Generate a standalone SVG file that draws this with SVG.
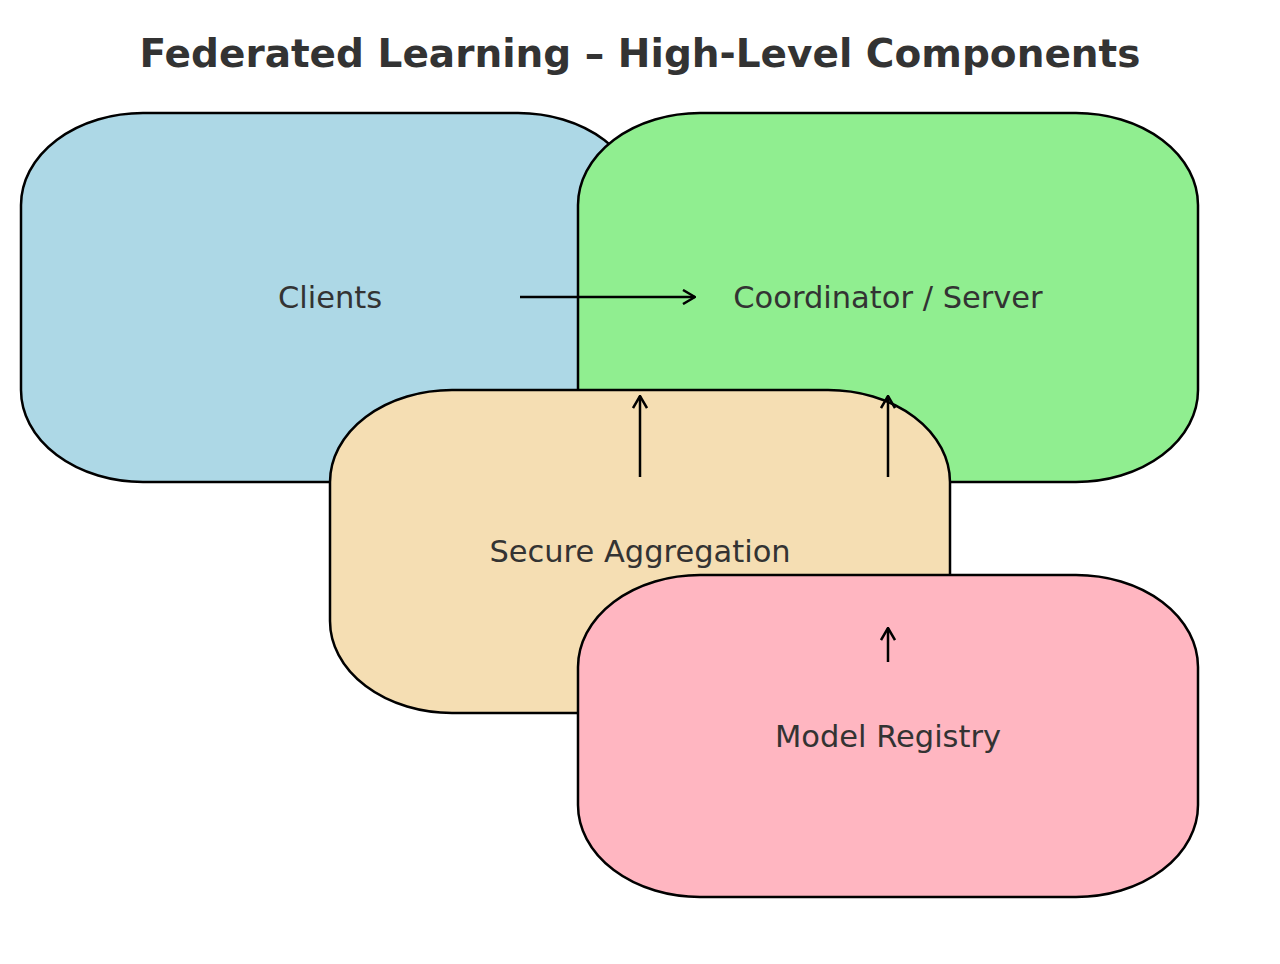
<svg xmlns="http://www.w3.org/2000/svg" width="1280" height="964" viewBox="0 0 1280 964">
<style>
.box{stroke:#000;stroke-width:2.5}
.lbl{font-family:"DejaVu Sans",sans-serif;font-size:30.5px;fill:#333;text-anchor:middle;dominant-baseline:central}
.title{font-family:"DejaVu Sans",sans-serif;font-size:39px;font-weight:bold;fill:#333;text-anchor:middle}
.conn{stroke:#000;stroke-width:2.5;fill:none;marker-end:url(#ah)}
</style>
<defs>
<marker id="ah" viewBox="0 0 14 16" refX="13" refY="8" markerWidth="14" markerHeight="16" markerUnits="userSpaceOnUse" orient="auto">
<path d="M1,1 L13,8 L1,15" fill="none" stroke="#000" stroke-width="2.5"/>
</marker>
</defs>
<rect width="1280" height="964" fill="#fff"/>
<text class="title" x="640" y="67">Federated Learning – High-Level Components</text>
<g id="clients"><rect class="box" x="21" y="113" width="619" height="369" rx="122" ry="92" fill="#add8e6"/><text class="lbl" x="330" y="297">Clients</text></g>
<g id="coordinator"><rect class="box" x="578" y="113" width="620" height="369" rx="122" ry="92" fill="#90ee90"/><text class="lbl" x="888" y="297">Coordinator / Server</text></g>
<g id="secure_aggregation"><rect class="box" x="330" y="390" width="620" height="323" rx="122" ry="92" fill="#f5deb3"/><text class="lbl" x="640" y="551">Secure Aggregation</text></g>
<g id="model_registry"><rect class="box" x="578" y="575" width="620" height="322" rx="122" ry="92" fill="#ffb6c1"/><text class="lbl" x="888" y="736">Model Registry</text></g>
<g id="connectors">
<line class="conn" x1="520" y1="297" x2="695" y2="297"/>
<line class="conn" x1="640" y1="477" x2="640" y2="396"/>
<line class="conn" x1="888" y1="477" x2="888" y2="396"/>
<line class="conn" x1="888" y1="662" x2="888" y2="628"/>
</g>
</svg>
